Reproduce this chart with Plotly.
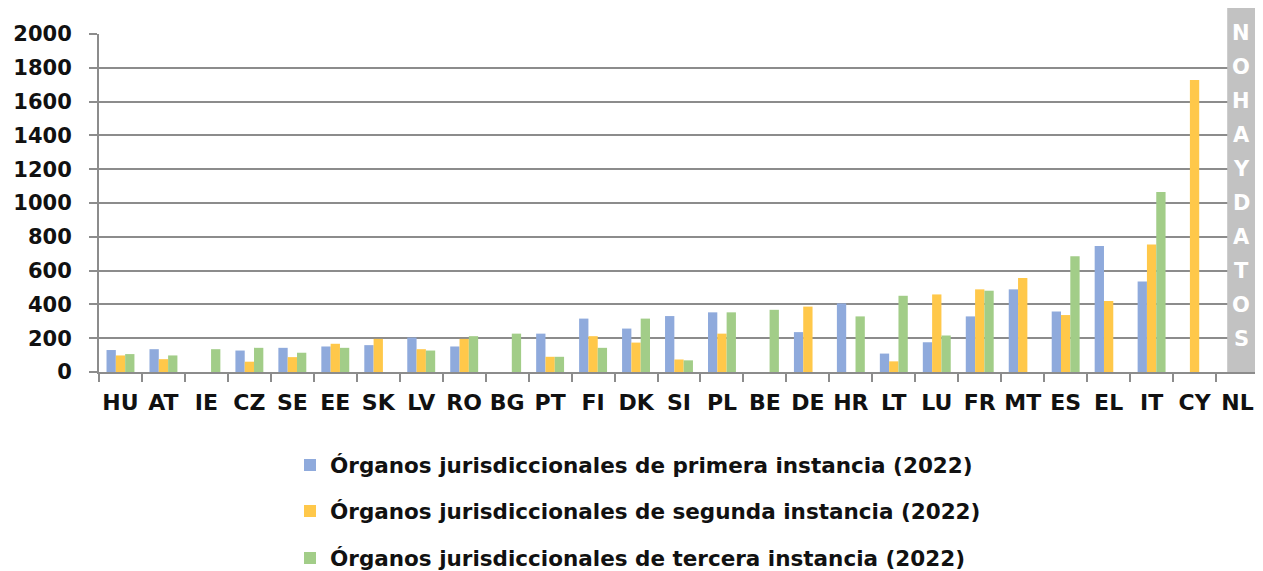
import plotly.graph_objects as go

categories = ["HU", "AT", "IE", "CZ", "SE", "EE", "SK", "LV", "RO", "BG", "PT", "FI", "DK", "SI",
              "PL", "BE", "DE", "HR", "LT", "LU", "FR", "MT", "ES", "EL", "IT", "CY", "NL"]
primera = [130, 135, None, 127, 143, 151, 159, 204, 151, None, 227, 316, 257, 331,
           353, None, 236, 406, 109, 176, 329, 489, 358, 746, 535, None, None]
segunda = [98, 76, None, 61, 88, 167, 196, 135, 196, None, 90, 212, 174, 74,
           227, None, 387, None, 63, 459, 489, 556, 337, 420, 754, 1728, None]
tercera = [106, 98, 135, 143, 114, 143, None, 127, 212, 227, 90, 143, 316, 69,
           353, 368, None, 329, 451, 216, 481, None, 685, None, 1065, None, None]
series_names = ["Órganos jurisdiccionales de primera instancia (2022)",
                "Órganos jurisdiccionales de segunda instancia (2022)",
                "Órganos jurisdiccionales de tercera instancia (2022)"]
nodata_text = "NO HAY DATOS"

colors = ["#8FAADC", "#FFC84A", "#A2CD88"]
# page is 1263x571, the html body adds an 8px margin around the figure
OFF = 8
W, H = 1263 - OFF, 571 - OFF
# plot area in page pixels: x 99..1259, y 34..372
L = 99 - OFF
T = 34 - OFF
R = W - (1259 - OFF)
B = H - (372 - OFF)
plot_w = W - L - R
plot_h = H - T - B

fig = go.Figure()
legend_ids = ["legend", "legend2", "legend3"]
for vals, name, col, lg in zip([primera, segunda, tercera], series_names, colors, legend_ids):
    fig.add_trace(go.Bar(x=categories, y=vals, name=name, marker_color=col,
                         marker_line_width=0, legend=lg))

grid_col = "#8C8C8C"
tick_font = dict(family="DejaVu Sans", size=21, color="#111111", weight="bold")

def py(page_px):
    return (372 - page_px) / plot_h

def px_x(page_px):
    return (page_px - 99) / plot_w

leg_font = dict(family="DejaVu Sans", size=21.5, color="#111111", weight="bold")
legend_rows = [465, 511, 558]
legend_common = dict(x=px_x(290), xanchor="left", yanchor="middle", bgcolor="rgba(0,0,0,0)",
                     font=leg_font, itemclick=False)
layout_legends = {}
for lg, row in zip(legend_ids, legend_rows):
    layout_legends[lg] = dict(y=py(row), **legend_common)

fig.update_layout(
    width=W, height=H,
    margin=dict(l=L, r=R, t=T, b=B, autoexpand=False),
    paper_bgcolor="white", plot_bgcolor="white",
    barmode="group", bargap=0.35, bargroupgap=0,
    showlegend=True,
    **layout_legends,
    xaxis=dict(type="category", categoryorder="array", categoryarray=categories,
               showline=True, linecolor=grid_col, linewidth=2, automargin=False,
               ticks="outside", tickson="boundaries", ticklen=8, tickwidth=2, tickcolor=grid_col,
               tickangle=0,
               tickfont=dict(family="DejaVu Sans", size=22, color="#111111", weight="bold"),
               ticklabelstandoff=10, showgrid=False),
    yaxis=dict(range=[0, 2000], tickvals=list(range(0, 2001, 200)), automargin=False,
               showline=True, linecolor=grid_col, linewidth=2,
               ticks="outside", ticklen=8, tickwidth=2, tickcolor=grid_col,
               showgrid=True, gridcolor=grid_col, gridwidth=2, zeroline=False,
               tickfont=tick_font, ticklabelstandoff=13),
)

# "no data" band for NL
nl_idx = categories.index("NL")
fig.add_shape(type="rect", xref="x", yref="paper",
              x0=nl_idx - 0.24, x1=nl_idx + 0.41, y0=0, y1=py(7),
              fillcolor="#C2C2C2", line_width=0, layer="above")
letters = [c for c in nodata_text if c != " "]
for k, ch in enumerate(letters):
    fig.add_annotation(x=nl_idx + 0.085, xref="x", y=py(32.5 + k * 34.1), yref="paper",
                       text=ch, showarrow=False, xanchor="center", yanchor="middle",
                       font=dict(family="DejaVu Sans", size=21, color="white", weight="bold"))

fig.write_html("out.html")
